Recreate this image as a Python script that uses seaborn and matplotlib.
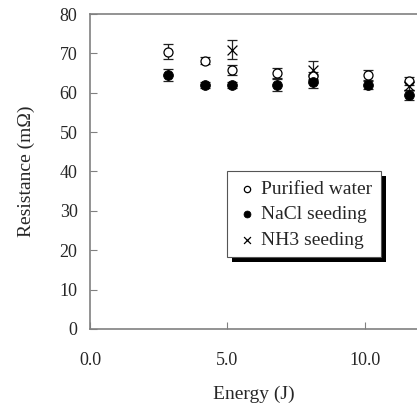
import numpy as np
import pandas as pd
import matplotlib
matplotlib.use("Agg")
import matplotlib.pyplot as plt
import matplotlib.patheffects as pe
import seaborn as sns

# Values
energy_water = [2.85, 4.2, 5.15, 6.8, 8.1, 10.1, 11.6]
res_water = [70.5, 68.2, 65.8, 65.0, 64.3, 64.5, 63.0]
err_water = [2.0, 1.0, 1.3, 1.2, 1.0, 1.2, 1.0]

energy_nacl = [2.85, 4.2, 5.15, 6.8, 8.1, 10.1, 11.6]
res_nacl = [64.5, 62.0, 62.0, 62.0, 62.8, 62.0, 59.5]
err_nacl = [1.5, 0.7, 0.7, 1.5, 1.6, 1.0, 1.3]

energy_nh3 = [5.15, 8.1, 11.6]
res_nh3 = [71.0, 65.8, 61.8]
err_nh3 = [2.5, 2.2, 1.0]

series_names = ["Purified water", "NaCl seeding", "NH3 seeding"]

sns.set_style("ticks")
plt.rcParams['font.family'] = ['Liberation Serif', 'DejaVu Serif']

fig = plt.figure(figsize=(4.17, 4.04), dpi=100)
ax = fig.add_axes([0.216, 0.186, 0.784, 0.779])

df = pd.concat([
    pd.DataFrame({'Energy': energy_water, 'Resistance': res_water, 'err': err_water, 'Series': series_names[0]}),
    pd.DataFrame({'Energy': energy_nacl, 'Resistance': res_nacl, 'err': err_nacl, 'Series': series_names[1]}),
    pd.DataFrame({'Energy': energy_nh3, 'Resistance': res_nh3, 'err': err_nh3, 'Series': series_names[2]}),
], ignore_index=True)

# error bars first, then markers on top
for name, g in df.groupby('Series', sort=False):
    ax.errorbar(g['Energy'], g['Resistance'], yerr=g['err'], fmt='none',
                ecolor='#222222', elinewidth=0.9, capsize=3.8, capthick=0.9, zorder=2)

sns.scatterplot(data=df[df['Series'] == series_names[0]], x='Energy', y='Resistance',
                marker='o', s=42, facecolor='white', edgecolor='black', linewidth=0.9,
                ax=ax, zorder=3, label=series_names[0])
sns.scatterplot(data=df[df['Series'] == series_names[1]], x='Energy', y='Resistance',
                marker='o', s=50, color='black', edgecolor='black',
                ax=ax, zorder=3, label=series_names[1])
sns.scatterplot(data=df[df['Series'] == series_names[2]], x='Energy', y='Resistance',
                marker='x', s=50, color='black', linewidth=0.9,
                ax=ax, zorder=4, label=series_names[2])

ax.set_xlim(0, 11.9)
ax.set_ylim(0, 80)
ax.set_xticks([0, 5, 10])
ax.set_xticklabels(['0.0', '5.0', '10.0'])
ax.set_yticks(range(0, 81, 10))

for s in ['left', 'bottom', 'top']:
    ax.spines[s].set_color('#808080')
    ax.spines[s].set_linewidth(1.2)
ax.spines['right'].set_visible(False)

ax.tick_params(axis='x', direction='in', length=5, color='#808080', pad=17, labelsize=13)
ax.tick_params(axis='y', direction='in', length=5, color='#808080', pad=9, labelsize=13)

ax.set_xlabel('Energy (J)', fontsize=14, labelpad=12)
ax.set_ylabel('Resistance (m\u03a9)', fontsize=14, labelpad=18)

leg = ax.legend(loc='upper left', bbox_to_anchor=(0.42, 0.5), frameon=True,
                fancybox=False, fontsize=14, handletextpad=0.2, handlelength=1.1,
                borderpad=0.45, labelspacing=0.4, markerscale=0.7, borderaxespad=0,
                framealpha=1, facecolor='white')
frame = leg.get_frame()
frame.set_edgecolor('#555555')
frame.set_linewidth(0.8)
frame.set_path_effects([pe.SimplePatchShadow(offset=(3.5, -3.5), shadow_rgbFace='black', alpha=1),
                        pe.Normal()])

fig.savefig('out.png', dpi=100)
